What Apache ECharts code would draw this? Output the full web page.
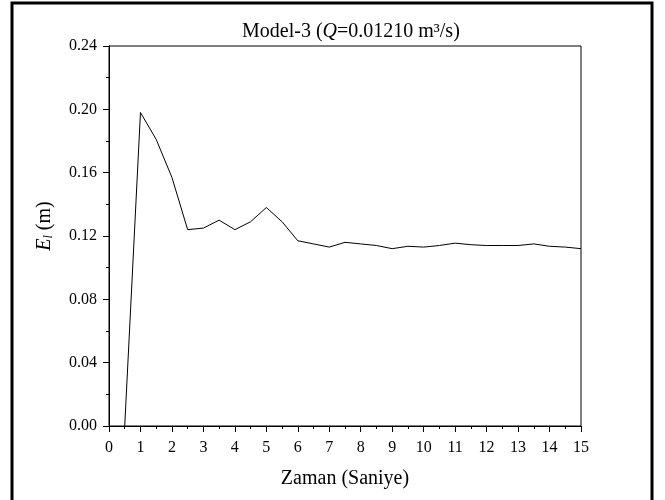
<!DOCTYPE html>
<html>
<head>
<meta charset="utf-8">
<script src="https://cdn.jsdelivr.net/npm/echarts@6/dist/echarts.min.js"></script>
<style>
  html, body { margin: 0; padding: 0; background: #fff; }
  #chart { width: 665px; height: 500px; }
</style>
</head>
<body>
<div id="chart"></div>
<script>
// time (s) and E_l (m)
const times = [0.5, 1.0, 1.5, 2.0, 2.5, 3.0, 3.5, 4.0, 4.5, 5.0, 5.5, 6.0, 6.5, 7.0, 7.5,
  8.0, 8.5, 9.0, 9.5, 10.0, 10.5, 11.0, 11.5, 12.0, 12.5, 13.0, 13.5, 14.0, 14.5, 15.0];
const elValues = [0, 0.198, 0.181, 0.157, 0.124, 0.125, 0.130, 0.124, 0.129, 0.138, 0.129, 0.117, 0.115, 0.113, 0.116,
  0.115, 0.114, 0.112, 0.1135, 0.113, 0.114, 0.1155, 0.1145, 0.114, 0.114, 0.114, 0.115, 0.1135, 0.113, 0.112];

const font = "Liberation Serif";
const chart = echarts.init(document.getElementById("chart"));
chart.setOption({
  animation: false,
  title: {
    text: "{a|Model-3 (}{i|Q}{a|=0.01210 m³/s)}",
    left: 237,
    top: 17,
    textStyle: {
      rich: {
        a: { fontFamily: font, fontSize: 20, fontWeight: "normal", color: "#000" },
        i: { fontFamily: font, fontSize: 20, fontWeight: "normal", fontStyle: "italic", color: "#000" },
      },
    },
  },
  graphic: [
    {
      type: "rect",
      shape: { x: 12, y: 3, width: 640, height: 510 },
      style: { fill: "none", stroke: "#000", lineWidth: 3 },
    },
  ],
  grid: { left: 109, right: 84, top: 46, bottom: 74, show: true, borderColor: "#000", borderWidth: 1 },
  xAxis: {
    type: "value",
    min: 0,
    max: 15,
    interval: 1,
    name: "Zaman (Saniye)",
    nameLocation: "middle",
    nameGap: 43,
    nameTextStyle: { fontFamily: font, fontSize: 20, color: "#000" },
    axisLine: { lineStyle: { color: "#000", width: 1 } },
    axisTick: { length: 6, lineStyle: { color: "#000" } },
    minorTick: { show: true, splitNumber: 2, length: 3, lineStyle: { color: "#000" } },
    splitLine: { show: false },
    axisLabel: { fontFamily: font, fontSize: 16, color: "#000", margin: 14 },
  },
  yAxis: {
    type: "value",
    min: 0,
    max: 0.24,
    interval: 0.04,
    name: "{i|E}{s|l}{a| (m)}",
    nameLocation: "middle",
    nameGap: 54,
    nameTextStyle: {
      padding: [0, 0, 0, 20],
      rich: {
        a: { fontFamily: font, fontSize: 20, color: "#000" },
        i: { fontFamily: font, fontSize: 20, fontStyle: "italic", color: "#000" },
        s: { fontFamily: font, fontSize: 12, fontStyle: "italic", color: "#000", padding: [9, 0, 0, 0] },
      },
    },
    axisLine: { show: true, lineStyle: { color: "#000", width: 1 } },
    axisTick: { show: true, length: 6, lineStyle: { color: "#000" } },
    minorTick: { show: true, splitNumber: 2, length: 3, lineStyle: { color: "#000" } },
    splitLine: { show: false },
    axisLabel: {
      fontFamily: font, fontSize: 16, color: "#000", margin: 12,
      formatter: (v) => v.toFixed(2),
    },
  },
  series: [
    {
      type: "line",
      data: times.map((t, i) => [t, elValues[i]]),
      showSymbol: false,
      lineStyle: { color: "#000", width: 1 },
    },
  ],
});
</script>
</body>
</html>
